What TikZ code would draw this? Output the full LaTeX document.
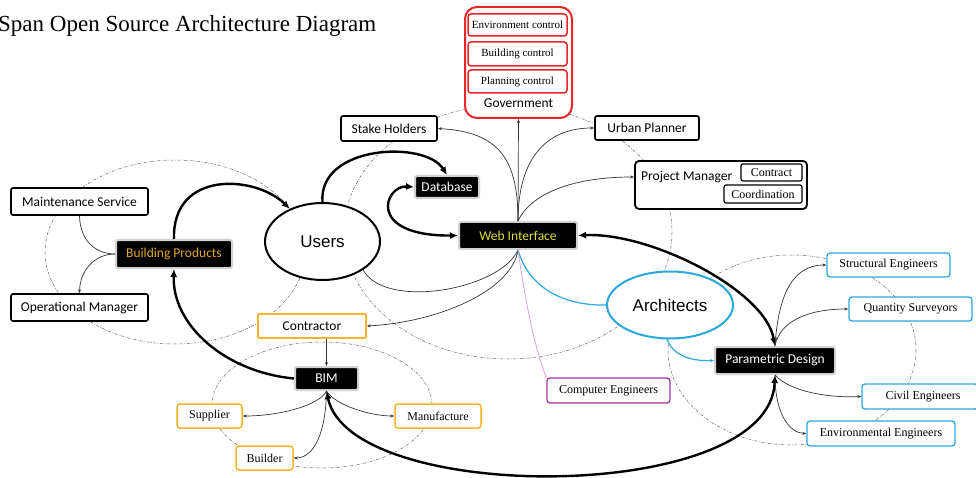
\documentclass[tikz,border=0pt]{standalone}
\usepackage{fontspec}
\newfontfamily\calfont{Carlito}
\newfontfamily\tnrfont{Liberation Serif}
\newfontfamily\arifont{Liberation Sans}
\usetikzlibrary{arrows.meta,shapes.geometric}
\definecolor{govred}{HTML}{E8262A}
\definecolor{gold}{HTML}{F5B52E}
\definecolor{goldtext}{HTML}{E3A62B}
\definecolor{webyellow}{HTML}{E2DE3C}
\definecolor{archblue}{HTML}{29A8E0}
\definecolor{purp}{HTML}{A3329C}
\definecolor{pinkline}{HTML}{D8A2D8}
\tikzset{
  cal/.style={font=\calfont\fontsize{13.5}{15}\selectfont},
  tnr/.style={font=\tnrfont\fontsize{12}{14}\selectfont},
  wbox/.style={cal,draw=black,line width=1.6pt,rounded corners=2pt,fill=white,inner sep=0pt},
  bbox/.style={cal,draw=black!18,line width=2pt,rounded corners=2pt,fill=black,text=white,inner sep=0pt},
  obox/.style={tnr,draw=gold,line width=1.5pt,rounded corners=3pt,fill=white,inner sep=0pt},
  cbox/.style={tnr,draw=archblue,line width=1.3pt,rounded corners=3pt,fill=white,inner sep=0pt},
  rbox/.style={tnr,font=\tnrfont\fontsize{11}{13}\selectfont,draw=govred,line width=1.5pt,rounded corners=3pt,fill=white,inner sep=0pt},
  sz/.style 2 args={minimum width=#1,minimum height=#2},
  ring/.style={draw=black!60,line width=0.5pt,dash pattern=on 3pt off 1.5pt on 0.7pt off 1.5pt},
  thin/.style={draw=black!80,line width=0.7pt,-{Stealth[length=4pt,width=3pt]}},
  thick/.style={draw=black,line width=2.4pt,-{Latex[length=8pt,width=7pt]}},
  thickboth/.style={draw=black,line width=2.4pt,{Latex[length=8pt,width=7pt]}-{Latex[length=8pt,width=7pt]}},
}
\begin{document}
\begin{tikzpicture}[x=1pt,y=-1pt]
\useasboundingbox (0,0) rectangle (976,478);
% dashed rings
\draw[ring] (175,252) ellipse [x radius=130,y radius=92];
\draw[ring] (508,232) ellipse [x radius=164,y radius=127];
\draw[ring] (322,405) ellipse [x radius=110,y radius=63];
\draw[ring] (792,350) ellipse [x radius=124,y radius=95];
% title
\node[anchor=base west,inner sep=0pt,font=\tnrfont\fontsize{23}{26}\selectfont] (title) at (-2,32) {Span Open Source Architecture Diagram};
% government
\node[draw=govred,line width=2pt,rounded corners=12pt,fill=white,sz={107}{111}] (gov) at (518.5,62.5) {};
\node[rbox,sz={99}{22}] (env) at (517.5,25) {Environment control};
\node[rbox,sz={99}{24}] (bld) at (517.5,54) {Building control};
\node[rbox,sz={99}{23}] (plan) at (517.5,81.5) {Planning control};
\node[cal,inner sep=0pt] (govt) at (518.5,103) {Government};
% nodes
\node[wbox,sz={96}{25}] (stake) at (389,128.5) {Stake Holders};
\node[wbox,sz={104}{24}] (urban) at (647,128) {Urban Planner};
\node[wbox,line width=1.8pt,rounded corners=4pt,sz={172}{48}] (pm) at (721,185) {};
\node[cal,anchor=west,inner sep=0pt] (pmt) at (641,177) {Project Manager};
\node[tnr,draw=black,line width=1.2pt,rounded corners=2pt,inner sep=0pt,sz={61}{17}] (contract) at (771.5,172.5) {Contract};
\node[tnr,draw=black,line width=1.2pt,rounded corners=2pt,inner sep=0pt,sz={78}{18}] (coord) at (763,194) {Coordination};
\node[bbox,sz={64}{22}] (db) at (447,187) {Database};
\node[bbox,text=webyellow,sz={118}{27}] (web) at (518,235.5) {Web Interface};
\node[ellipse,draw=black,line width=2pt,fill=white,inner sep=0pt,sz={115}{77},font=\arifont\fontsize{17}{19}\selectfont] (users) at (322.5,241.5) {Users};
\node[wbox,sz={137}{27}] (maint) at (79.5,201.5) {Maintenance Service};
\node[bbox,text=goldtext,sz={116}{28}] (bp) at (174,254) {Building Products};
\node[wbox,sz={137}{27}] (oper) at (79.5,307.5) {Operational Manager};
\node[wbox,draw=gold,line width=1.8pt,rounded corners=1pt,sz={108}{24}] (contr) at (312,326) {Contractor};
\node[bbox,sz={63}{23}] (bim) at (326.5,378.5) {BIM};
\node[obox,sz={65}{24}] (supp) at (209.5,416) {Supplier};
\node[obox,sz={57}{24}] (build) at (264.5,458) {Builder};
\node[obox,sz={86}{24}] (manu) at (438,416) {Manufacture};
\node[ellipse,draw=archblue,line width=2pt,fill=white,inner sep=0pt,sz={126}{67},font=\arifont\fontsize{17}{19}\selectfont] (arch) at (670,305) {Architects};
\node[bbox,sz={120}{27}] (pd) at (775,360.5) {Parametric Design};
\node[tnr,draw=purp,line width=1.3pt,rounded corners=3pt,fill=white,inner sep=0pt,sz={123}{25}] (comp) at (608.5,390.5) {Computer Engineers};
\node[cbox,sz={123}{24}] (struct) at (888.5,265) {Structural Engineers};
\node[cbox,sz={123}{24}] (qs) at (910.5,309) {Quantity Surveyors};
\node[cbox,sz={116}{25}] (civil) at (920,396.5) {\hspace*{6pt}Civil Engineers};
\node[cbox,sz={148}{25}] (envi) at (881,433.5) {Environmental Engineers};
% web interface fan
\draw[thin] (web.north) -- (gov.south);
\draw[thin] (web.north) .. controls (518,160) and (500,132) .. (stake.east);
\draw[thin] (web.north) .. controls (518,160) and (545,128) .. (urban.west);
\draw[thin] (web.north) .. controls (530,195) and (570,177) .. (pm.west |- pmt.west);
\draw[draw=black!80,line width=0.7pt] (web.south) .. controls (500,290) and (385,310) .. (users.-35);
\draw[thin] (web.south) .. controls (512,290) and (440,322) .. (contr.east);
\draw[draw=archblue,line width=1.2pt] (web.south) .. controls (530,292) and (570,306) .. (arch.west);
\draw[draw=pinkline,line width=0.8pt] (web.south) .. controls (525,300) and (535,350) .. (comp.north west);
% thick connectors
\draw[thickboth] (db.west) .. controls (385,185) and (365,236) .. (web.west);
\draw[thick] (users.north) .. controls (318,145) and (425,140) .. (db.north);
\draw[thick] (bp.north) .. controls (172,170) and (255,175) .. (users.135);
\draw[thick] (bim.west) .. controls (225,372) and (172,325) .. (bp.south);
\draw[thickboth] (bim.south) .. controls (350,505) and (770,505) .. (pd.south);
\draw[thickboth] (pd.north) .. controls (765,290) and (650,232) .. (web.east);
% parametric fan
\draw[draw=archblue,line width=1.2pt,-{Stealth[length=4pt,width=3pt]}] (arch.-95) .. controls (675,360) and (700,361) .. (pd.west);
\draw[thin] (pd.north) .. controls (778,300) and (790,265) .. (struct.west);
\draw[thin] (pd.north) .. controls (780,320) and (810,309) .. (qs.west);
\draw[thin] (pd.south) .. controls (790,392) and (830,398) .. (civil.west);
\draw[thin] (pd.south) .. controls (775,415) and (790,433) .. (envi.west);
% BIM fan
\draw[thin] (contr.south -| bim.north) -- (bim.north);
\draw[thin] (bim.south) .. controls (320,405) and (280,416) .. (supp.east);
\draw[thin] (bim.south) .. controls (335,405) and (370,416) .. (manu.west);
\draw[thin] (bim.south) .. controls (326,430) and (315,458) .. (build.east);
% building products fan
\draw[draw=black!80,line width=0.7pt] (bp.west) .. controls (95,254) and (80,240) .. (maint.south);
\draw[thin] (bp.west) .. controls (95,254) and (80,270) .. (oper.north);
\end{tikzpicture}
\end{document}
